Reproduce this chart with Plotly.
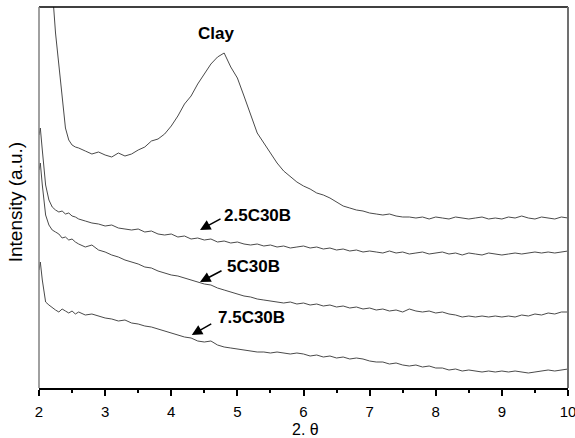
import plotly.graph_objects as go

two_theta = [2.0, 2.02, 2.05, 2.08, 2.1, 2.15, 2.2, 2.25, 2.3, 2.35, 2.4, 2.45, 2.5, 2.55,
             2.6, 2.7, 2.8, 2.9, 3.0, 3.1, 3.2, 3.3, 3.4, 3.5, 3.6, 3.7, 3.8, 3.9,
             4.0, 4.1, 4.2, 4.3, 4.4, 4.5, 4.6, 4.7, 4.8, 4.9, 5.0, 5.1, 5.2, 5.3, 5.4, 5.5,
             5.6, 5.7, 5.8, 5.9, 6.0, 6.1, 6.2, 6.3, 6.4, 6.5, 6.6, 6.7, 6.8, 6.9, 7.0,
             7.1, 7.2, 7.3, 7.4, 7.5, 7.6, 7.7, 7.8, 7.9, 8.0, 8.1, 8.2, 8.3, 8.4, 8.5,
             8.6, 8.7, 8.8, 8.9, 9.0, 9.1, 9.2, 9.3, 9.4, 9.5, 9.6, 9.7, 9.8, 9.9, 10.0]

clay = [900, 850, 780, 700, 640, 520, 400, 355, 321, 288, 260, 248, 243, 241,
        240, 237, 234, 236, 233, 231, 235, 232, 234, 238, 241, 247, 249, 254,
        262, 272, 284, 292, 304, 314, 324, 331, 335, 321, 310, 292, 274, 255, 245, 235,
        225, 217, 211, 206, 202, 199, 195, 193, 190, 186, 182, 180, 178, 177, 175,
        174, 173, 174, 172, 171, 171, 170, 171, 169, 171, 170, 169, 171, 170, 169,
        170, 171, 169, 170, 169, 171, 170, 172, 170, 169, 171, 170, 169, 171, 170]

c25 = [253, 260, 238, 216, 203, 188, 181, 178, 176, 177, 174, 175, 172, 171,
       169, 167, 165, 164, 162, 163, 160, 159, 158, 159, 156, 157, 154, 153,
       154, 151, 152, 149, 150, 148, 149, 146, 147, 145, 146, 144, 143, 144, 142, 143,
       141, 142, 140, 141, 142, 140, 141, 139, 140, 138, 139, 137, 138, 136, 137,
       136, 135, 137, 135, 136, 134, 135, 136, 134, 135, 136, 134, 135, 133, 135,
       134, 133, 135, 134, 133, 134, 135, 134, 135, 136, 135, 136, 135, 136, 137]

c5 = [218, 225, 203, 183, 173, 163, 158, 156, 154, 150, 151, 148, 149, 146,
      144, 141, 143, 138, 136, 133, 131, 128, 126, 124, 121, 120, 117, 115,
      113, 112, 110, 108, 106, 104, 103, 100, 98, 96, 94, 92, 91, 89, 88, 87,
      86, 85, 86, 84, 85, 83, 84, 82, 83, 81, 82, 80, 81, 79, 80,
      78, 79, 77, 78, 76, 79, 77, 76, 77, 75, 76, 74, 73, 71, 72,
      71, 72, 71, 72, 71, 72, 71, 73, 72, 74, 73, 75, 74, 76, 76]

c75 = [118, 126, 108, 91, 86, 83, 80, 78, 76, 79, 77, 75, 77, 74,
       76, 73, 74, 72, 70, 69, 67, 68, 65, 64, 62, 61, 59, 57,
       55, 53, 51, 50, 47, 46, 47, 43, 41, 40, 39, 38, 37, 36, 36, 35,
       36, 35, 34, 35, 34, 32, 33, 31, 32, 30, 31, 29, 30, 29, 27,
       26, 26, 24, 25, 23, 22, 23, 21, 22, 20, 20, 18, 19, 17, 18,
       17, 16, 17, 16, 17, 16, 17, 16, 15, 16, 17, 18, 17, 18, 19]

series = [("Clay", clay), ("2.5C30B", c25), ("5C30B", c5), ("7.5C30B", c75)]

fig = go.Figure()
for name, vals in series:
    fig.add_trace(go.Scatter(x=two_theta, y=vals, mode="lines", name=name,
                             line=dict(color="#4a4a4a", width=1), showlegend=False))

FONT = "Liberation Sans, Arial, sans-serif"

labels = [("Clay", 4.68, 355), ("2.5C30B", 5.31, 173), ("5C30B", 5.25, 122), ("7.5C30B", 5.21, 71)]
for txt, lx, ly in labels:
    fig.add_annotation(x=lx, y=ly, text="<b>%s</b>" % txt, showarrow=False,
                       font=dict(family=FONT, size=17, color="black"))

arrows = [(4.435, 158, 22, -12), (4.435, 106, 23, -12), (4.31, 53, 21, -12)]
for hx, hy, axo, ayo in arrows:
    fig.add_annotation(x=hx, y=hy, ax=axo, ay=ayo, text="", showarrow=True,
                       arrowhead=2, arrowsize=1.4, arrowwidth=1.5, arrowcolor="black")

fig.add_annotation(xref="paper", yref="paper", x=-0.045, y=0.488, text="Intensity (a.u.)",
                   textangle=-90, showarrow=False, xanchor="center", yanchor="middle",
                   font=dict(family=FONT, size=19, color="black"))
fig.add_annotation(xref="paper", yref="paper", x=0.503, y=-0.108, text="2. θ",
                   showarrow=False, xanchor="center", yanchor="middle",
                   font=dict(family=FONT, size=16, color="black"))

fig.add_shape(type="line", xref="paper", yref="paper", x0=0, x1=1, y0=1, y1=1,
              line=dict(color="black", width=1.5))
fig.add_shape(type="line", xref="paper", yref="paper", x0=1, x1=1, y0=0, y1=1,
              line=dict(color="#707070", width=2))
fig.add_shape(type="line", xref="paper", yref="paper", x0=0, x1=0, y0=0, y1=1,
              line=dict(color="#808080", width=1.5))

fig.update_xaxes(range=[2, 10], dtick=1, tick0=2, ticks="outside", ticklen=6, tickwidth=1.5,
                 tickcolor="black", showline=True, linecolor="black", linewidth=2,
                 showgrid=False, zeroline=False, automargin=False,
                 ticklabeloverflow="allow", ticklabelstandoff=3,
                 tickfont=dict(family=FONT, size=15, color="black"),
                 minor=dict(dtick=0.5, ticks="outside", ticklen=3, tickwidth=1.5,
                            tickcolor="black", showgrid=False))
fig.update_yaxes(range=[0, 381], showticklabels=False, ticks="", showgrid=False,
                 zeroline=False, showline=False, automargin=False)

fig.update_layout(width=575, height=438, margin=dict(l=39, r=7, t=7, b=50),
                  plot_bgcolor="white", paper_bgcolor="white")

fig.write_html("out.html", config={"displayModeBar": False},
               post_script="document.body.style.margin='0';")
